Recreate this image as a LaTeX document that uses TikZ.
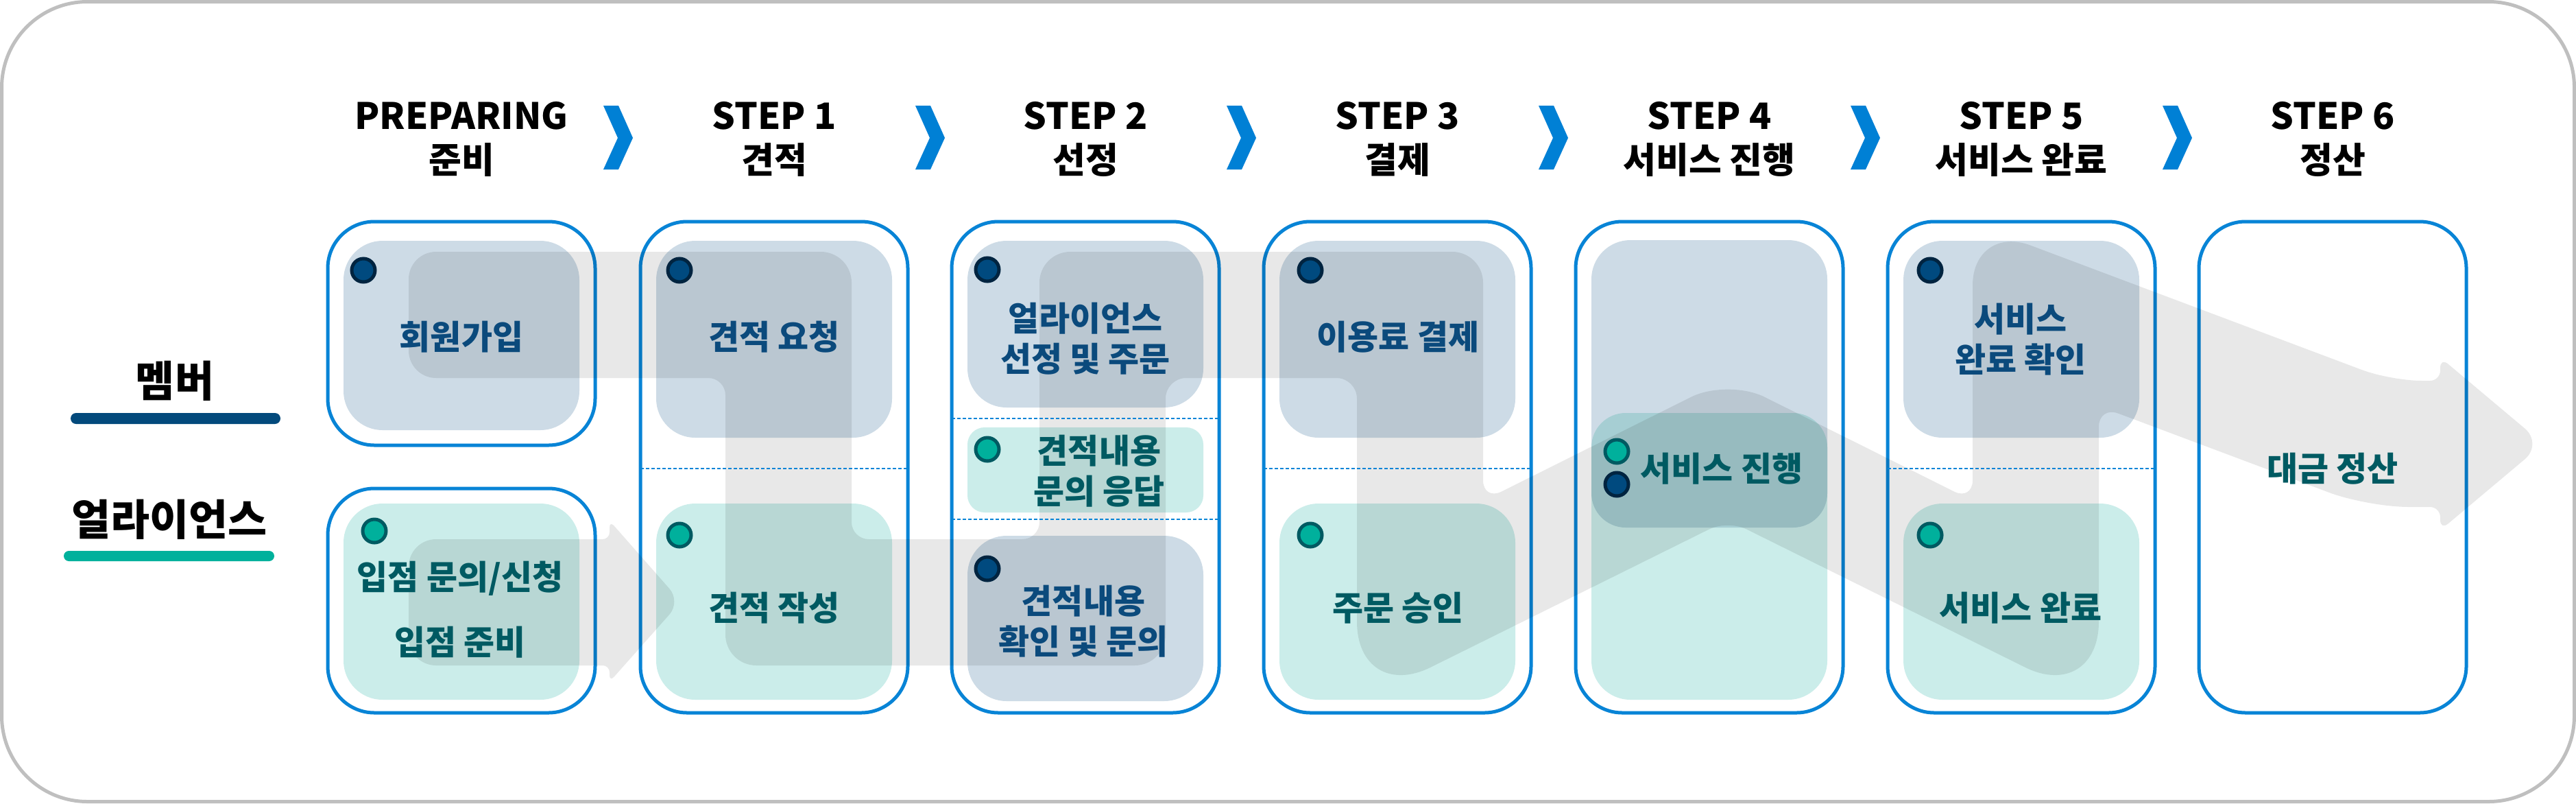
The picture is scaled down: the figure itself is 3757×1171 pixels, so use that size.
\documentclass[tikz,border=0pt]{standalone}
\usepackage{fontspec}
\setmainfont{Noto Sans CJK KR}
\definecolor{boxblue}{RGB}{8,132,214}
\definecolor{chevblue}{RGB}{0,128,213}
\definecolor{frameGray}{RGB}{191,191,191}
\definecolor{memFill}{RGB}{205,219,230}
\definecolor{allFill}{RGB}{203,237,234}
\definecolor{midFill}{RGB}{166,206,211}
\definecolor{memText}{RGB}{11,74,124}
\definecolor{allText}{RGB}{0,90,98}
\definecolor{memDot}{RGB}{0,74,127}
\definecolor{memRing}{RGB}{0,36,64}
\definecolor{allDot}{RGB}{0,176,156}
\definecolor{allRing}{RGB}{0,90,98}
\definecolor{memBar}{RGB}{3,74,124}
\definecolor{allBar}{RGB}{0,177,156}
\tikzset{
  colbox/.style={draw=boxblue, line width=5pt, fill=white, rounded corners=68pt},
  membox/.style={fill=memFill, rounded corners=57pt},
  allbox/.style={fill=allFill, rounded corners=57pt},
  midbox/.style={fill=midFill, rounded corners=50pt},
  flow/.style={fill=black, fill opacity=0.09},
  divline/.style={boxblue, line width=1.8pt, dash pattern=on 5pt off 3pt},
  chevron/.style={fill=chevblue},
  memdot/.style={circle, draw=memRing, fill=memDot, line width=5pt, minimum size=34pt, inner sep=0pt},
  alldot/.style={circle, draw=allRing, fill=allDot, line width=5pt, minimum size=34pt, inner sep=0pt},
  hdlatin/.style={font=\fontsize{53}{58}\selectfont\bfseries, anchor=base},
  hdkor/.style={font=\fontsize{52}{56}\selectfont\bfseries, anchor=base},
  rowname/.style={font=\fontsize{62}{66}\selectfont\bfseries},
  memtext/.style={font=\fontsize{49}{59}\selectfont\bfseries, text=memText, align=center},
  alltext/.style={font=\fontsize{49}{59}\selectfont\bfseries, text=allText, align=center}
}
\begin{document}
\begin{tikzpicture}[x=1pt, y=-1pt]
  \useasboundingbox (0,0) rectangle (3757,1171);
  % outer frame
  \draw[frameGray, line width=5pt, rounded corners=125pt, fill=white] (2.5,2.5) rectangle (3754.5,1168.5);
  % step headers
  \foreach \x/\n/\a/\b in {673/0/PREPARING/준비, 1129/1/STEP 1/견적, 1583/2/STEP 2/선정,
      2038/3/STEP 3/결제, 2493/4/STEP 4/서비스 진행, 2948/5/STEP 5/서비스 완료, 3402/6/STEP 6/정산} {
    \node[hdlatin] (hd\n) at (\x,188) {\a};
    \node[hdkor] (hk\n) at (\x,252) {\b};
  }
  \foreach \m in {901,1356,1810,2265,2720,3175}
    \fill[chevron] (\m-21,154) -- (\m+1,154) -- (\m+22,201) -- (\m+1,247) -- (\m-21,247) -- (\m,201) -- cycle;
  % row names
  \node[rowname] (rowm) at (255,555) {멤버};
  \fill[memBar, rounded corners=8pt] (103,602) rectangle (409,618);
  \node[rowname] (rowa) at (247,757) {얼라이언스};
  \fill[allBar, rounded corners=7.5pt] (93,803) rectangle (400,818);
  % column frames
  \draw[colbox] (478,323) rectangle (868,649);
  \draw[colbox] (478,712) rectangle (868,1039);
  \foreach \c in {1129,1583,2038,2493,2948,3402}
    \draw[colbox] (\c-195,323) rectangle (\c+195,1039);
  % inner boxes
  \fill[membox] (501,351) rectangle (845,627);
  \fill[allbox] (501,734) rectangle (845,1020);
  \foreach \c in {1129,2038,2948} {
    \fill[membox] (\c-172,351) rectangle (\c+172,638);
    \fill[allbox] (\c-172,734) rectangle (\c+172,1020);
  }
  \fill[membox] (1411,351) rectangle (1755,594);
  \fill[allbox, rounded corners=25pt] (1411,623) rectangle (1755,747);
  \fill[membox] (1411,781) rectangle (1755,1022);
  \begin{scope}
    \clip (2300,340) rectangle (2690,685);
    \fill[membox] (2321,350) rectangle (2665,1020);
  \end{scope}
  \begin{scope}
    \clip (2300,685) rectangle (2690,1030);
    \fill[allbox] (2321,350) rectangle (2665,1020);
  \end{scope}
  \fill[midbox] (2321,602) rectangle (2665,769);
  % grey flow band
  \fill[flow] (596,459) [rounded corners=40pt] -- (596,367)
    [rounded corners=45pt] -- (1242,367) [rounded corners=25pt] -- (1242,786)
    [rounded corners=25pt] -- (1516,786) [rounded corners=45pt] -- (1516,367)
    [rounded corners=45pt] -- (2163,367) [rounded corners=30pt] -- (2163,730)
    [rounded corners=60pt] -- (2520,552) [rounded corners=30pt] -- (2877,730)
    [rounded corners=90pt] -- (2877,326) [rounded corners=45pt] -- (3487,555)
    [rounded corners=15pt] -- (3559,555) [rounded corners=15pt] -- (3559,521)
    [rounded corners=35pt] -- (3709,647) [rounded corners=15pt] -- (3559,773)
    [rounded corners=15pt] -- (3559,739) [rounded corners=60pt] -- (3453,739)
    [rounded corners=30pt] -- (3061,592) [rounded corners=120pt] -- (3061,1026)
    [rounded corners=30pt] -- (2520,758) [rounded corners=120pt] -- (1979,1026)
    [rounded corners=30pt] -- (1979,551) [rounded corners=30pt] -- (1700,551)
    [rounded corners=45pt] -- (1700,970) [rounded corners=45pt] -- (1058,970)
    [rounded corners=25pt] -- (1058,551) [rounded corners=40pt] -- (596,551) -- cycle;
  \fill[flow] (596,878) [rounded corners=40pt] -- (596,786)
    [rounded corners=10pt] -- (889,786) [rounded corners=10pt] -- (889,759)
    [rounded corners=25pt] -- (993,877) [rounded corners=10pt] -- (889,994)
    [rounded corners=10pt] -- (889,970) [rounded corners=40pt] -- (596,970) -- cycle;
  % row dividers
  \foreach \c in {1129,2038,2948}
    \draw[divline] (\c-195,683) -- (\c+195,683);
  \draw[divline] (1388,610) -- (1778,610);
  \draw[divline] (1388,757) -- (1778,757);
  % role dots
  \node[memdot] (d0m) at (530,394) {};
  \node[alldot] (d0a) at (546,774) {};
  \node[memdot] (d1m) at (991,394) {};
  \node[alldot] (d1a) at (991,780) {};
  \node[memdot] (d2m) at (1440,393) {};
  \node[alldot] (d2a) at (1440,655) {};
  \node[memdot] (d2b) at (1440,829) {};
  \node[memdot] (d3m) at (1911,394) {};
  \node[alldot] (d3a) at (1911,780) {};
  \node[alldot] (d4a) at (2358,658) {};
  \node[memdot] (d4m) at (2358,706) {};
  \node[memdot] (d5m) at (2815,394) {};
  \node[alldot] (d5a) at (2815,780) {};
  % task labels
  \node[memtext] (t0m) at (673,491) {회원가입};
  \node[alltext] (t0a) at (671,843) {입점 문의/신청};
  \node[alltext] (t0b) at (671,936) {입점 준비};
  \node[memtext] (t1m) at (1129,491) {견적 요청};
  \node[alltext] (t1a) at (1129,886) {견적 작성};
  \node[memtext] (t2m) at (1583,494) {얼라이언스\\선정 및 주문};
  \node[alltext] (t2a) at (1603,687) {견적내용\\문의 응답};
  \node[memtext] (t2b) at (1580,906) {견적내용\\확인 및 문의};
  \node[memtext] (t3m) at (2039,491) {이용료 결제};
  \node[alltext] (t3a) at (2039,886) {주문 승인};
  \node[alltext] (t4) at (2511,683) {서비스 진행};
  \node[memtext] (t5m) at (2947,495) {서비스\\완료 확인};
  \node[alltext] (t5a) at (2947,886) {서비스 완료};
  \node[alltext] (t6) at (3402,683) {대금 정산};
\end{tikzpicture}
\end{document}
